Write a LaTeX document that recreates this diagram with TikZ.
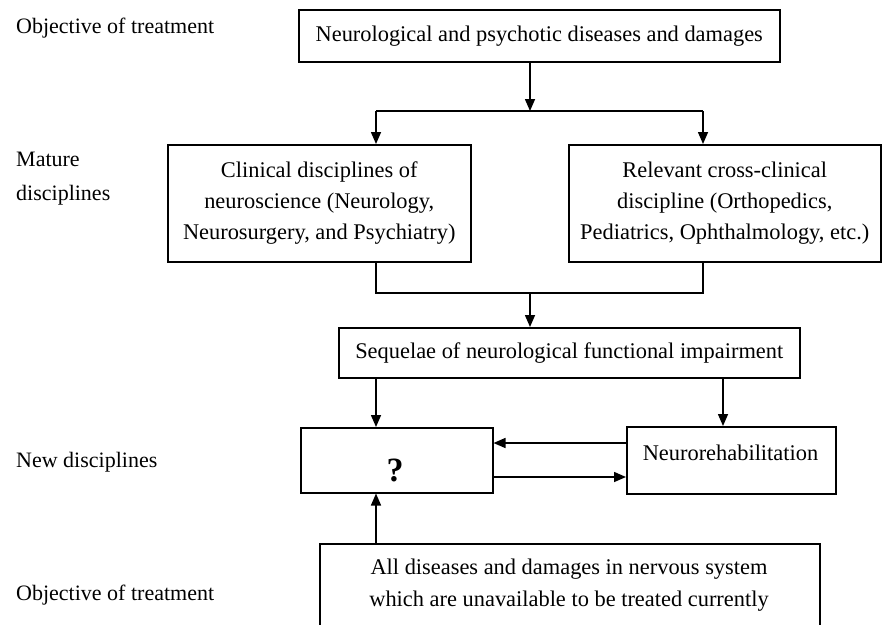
\documentclass[tikz,border=0pt]{standalone}
\usepackage{fontspec}
\setmainfont{Liberation Serif}
\usetikzlibrary{arrows.meta}
\begin{document}
\begin{tikzpicture}[x=1pt,y=-1pt,
  box/.style={draw, line width=1.5pt, inner sep=0pt, anchor=north west, align=center, font=\fontsize{22.4}{31}\selectfont},
  lbl/.style={anchor=west, inner sep=0pt, align=left, font=\fontsize{22}{34}\selectfont},
  txt/.style={inner sep=0pt, align=center, font=\fontsize{22.4}{31}\selectfont},
  con/.style={line width=1.5pt},
  arr/.style={line width=1.5pt, -{Triangle[length=12pt,width=10pt]}}]
\useasboundingbox (0,0) rectangle (882,624);
% labels
\node[lbl] (l1) at (16,28) {Objective of treatment};
\node[lbl] (l2) at (16,179) {Mature\\disciplines};
\node[lbl] (l3) at (16,462) {New disciplines};
\node[lbl] (l4) at (16,595) {Objective of treatment};
% boxes
\node[box, minimum width=481pt, minimum height=52pt] (b1) at (298,9) {Neurological and psychotic diseases and damages};
\node[box, minimum width=303pt, minimum height=117pt] (b2) at (167,144) {Clinical disciplines of\\neuroscience (Neurology,\\Neurosurgery, and Psychiatry)};
\node[box, minimum width=312pt, minimum height=117pt] (b3) at (568,144) {Relevant cross-clinical\\discipline (Orthopedics,\\Pediatrics, Ophthalmology, etc.)};
\node[box, minimum width=461pt, minimum height=50pt] (b4) at (338,327) {Sequelae of neurological functional impairment};
\node[box, minimum width=192pt, minimum height=65pt] (b5) at (300,427) {};
\node[font=\fontsize{34}{34}\selectfont\bfseries, inner sep=0pt] (q) at (395,470) {?};
\node[box, minimum width=209pt, minimum height=67pt] (b6) at (626,426) {};
\node[txt] (t6) at (730.5,453) {Neurorehabilitation};
\node[box, minimum width=500pt, minimum height=90pt] (b7) at (319,543) {};
\node[txt, font=\fontsize{22.4}{32}\selectfont] (t7) at (569,585) {All diseases and damages in nervous system\\which are unavailable to be treated currently};
% connectors
\coordinate (sp) at (530,111);
\coordinate (spl) at (376,111);
\coordinate (spr) at (703,111);
\draw[arr] (b1.south -| sp) -- (sp);
\draw[con] (spl) -- (spr);
\draw[arr] (spl) -- (spl |- b2.north);
\draw[arr] (spr) -- (spr |- b3.north);
\coordinate (jl) at (376,293);
\coordinate (jr) at (703,293);
\coordinate (jm) at (530,293);
\draw[con] (jl |- b2.south) -- (jl) -- (jr) -- (jr |- b3.south);
\draw[arr] (jm) -- (jm |- b4.north);
\coordinate (x1) at (376,0);
\coordinate (x2) at (723,0);
\draw[arr] (x1 |- b4.south) -- (x1 |- b5.north);
\draw[arr] (x2 |- b4.south) -- (x2 |- b6.north);
\coordinate (y1) at (0,443);
\coordinate (y2) at (0,477);
\draw[arr] (b6.west |- y1) -- (b5.east |- y1);
\draw[arr] (b5.east |- y2) -- (b6.west |- y2);
\draw[arr] (x1 |- b7.north) -- (x1 |- b5.south);
\end{tikzpicture}
\end{document}
